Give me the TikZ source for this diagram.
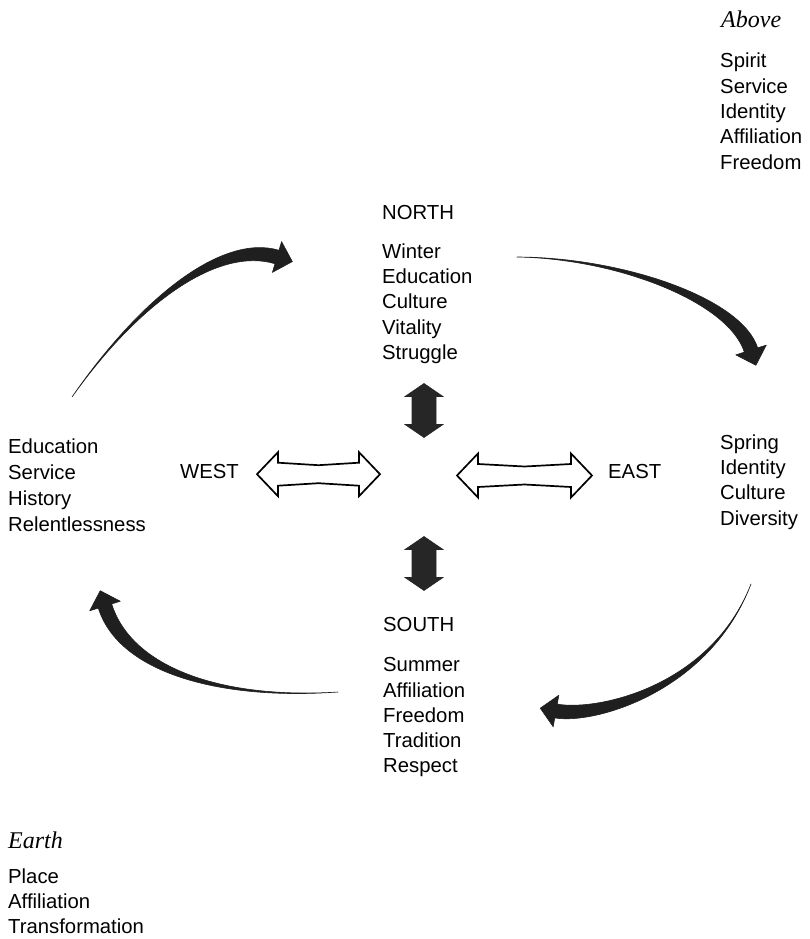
\documentclass[tikz,border=0pt]{standalone}
\usepackage{fontspec}
\setmainfont{Liberation Sans}
\newfontfamily\headfont{Liberation Serif}
\usetikzlibrary{calc}

% tapering curved arrow: tail, control 1, control 2, head base
\newcommand{\sweep}[4]{%
    \coordinate (s0) at #1;
    \coordinate (s1) at #2;
    \coordinate (s2) at #3;
    \coordinate (s3) at #4;
    \coordinate (bl) at ($(s3)!7pt!90:(s2)$);
    \coordinate (br) at ($(s3)!7pt!-90:(s2)$);
    \coordinate (hl) at ($(s3)!16pt!90:(s2)$);
    \coordinate (hr) at ($(s3)!16pt!-90:(s2)$);
    \coordinate (tip) at ($(s3)!-16pt!(s2)$);
    \filldraw[sweeparrow] (s0) .. controls ($(s1)+0.35*(bl)-0.35*(s3)$) and ($(s2)+(bl)-(s3)$) .. (bl)
        -- (hl) -- (tip) -- (hr) -- (br)
        .. controls ($(s2)+(br)-(s3)$) and ($(s1)+0.35*(br)-0.35*(s3)$) .. (s0) -- cycle;
}

\begin{document}
\begin{tikzpicture}[x=1pt, y=-1pt,
    word/.style={inner sep=0pt, font=\fontsize{20.3}{25.3}\selectfont},
    wordlist/.style={word, align=left, anchor=north west},
    heading/.style={inner sep=0pt, anchor=base west, font=\headfont\itshape\fontsize{24}{28}\selectfont},
    sweeparrow/.style={fill=black!88, draw=black!88, line width=0.6pt, line join=round},
    darkarrow/.style={fill=black!85, draw=black!85, line width=0.6pt},
    hollowarrow/.style={draw=black, fill=white, line width=1.7pt}]
    \useasboundingbox (0,0) rectangle (809,939);

    % Above
    \node[heading] (above) at (721,28) {Above};
    \node[wordlist] (abovelist) at (720,53) {Spirit\\Service\\Identity\\Affiliation\\Freedom};

    % North
    \node[word, anchor=base west] (north) at (382,219) {NORTH};
    \node[wordlist] (northlist) at (382,243.4) {Winter\\Education\\Culture\\Vitality\\Struggle};

    % West
    \node[wordlist, font=\fontsize{20.3}{26}\selectfont] (westlist) at (8,438.4) {Education\\Service\\History\\Relentlessness};
    \node[word, anchor=base west] (west) at (180,478) {WEST};

    % East
    \node[word, anchor=base west] (east) at (608,478) {EAST};
    \node[wordlist] (eastlist) at (720,434.4) {Spring\\Identity\\Culture\\Diversity};

    % South
    \node[word, anchor=base west] (south) at (383,631) {SOUTH};
    \node[wordlist] (southlist) at (383,657.4) {Summer\\Affiliation\\Freedom\\Tradition\\Respect};

    % Earth
    \node[heading] (earth) at (8,848) {Earth};
    \node[wordlist] (earthlist) at (8,868.4) {Place\\Affiliation\\Transformation};

    % Curved arrows round the circle
    \sweep{(72,397)}{(140,300)}{(220,240)}{(277,257)}
    \sweep{(517,257)}{(620,258)}{(735,300)}{(751,350)}
    \sweep{(751,584)}{(710,690)}{(595,718)}{(556,711)}
    \sweep{(338,692)}{(220,700)}{(125,670)}{(105,606)}

    % North and south double arrows
    \foreach \cy in {410.5,563.5} {
        \filldraw[darkarrow] (424,\cy) ++(0,-27) -- ++(19,13) -- ++(-7,0) -- ++(0,28)
            -- ++(7,0) -- ++(-19,13) -- ++(-19,-13) -- ++(7,0) -- ++(0,-28) -- ++(-7,0) -- cycle;
    }

    % West and east double arrows
    \foreach \cx/\cy/\hl in {318.5/474.2/61.5, 524.5/475.5/67.5} {
        \draw[hollowarrow] (\cx-\hl,\cy) -- (\cx-\hl+21,\cy-22) -- (\cx-\hl+21,\cy-11.5)
            -- (\cx,\cy-9) -- (\cx+\hl-21,\cy-11.5) -- (\cx+\hl-21,\cy-22) -- (\cx+\hl,\cy)
            -- (\cx+\hl-21,\cy+22) -- (\cx+\hl-21,\cy+11.5) -- (\cx,\cy+9)
            -- (\cx-\hl+21,\cy+11.5) -- (\cx-\hl+21,\cy+22) -- cycle;
    }
\end{tikzpicture}
\end{document}
